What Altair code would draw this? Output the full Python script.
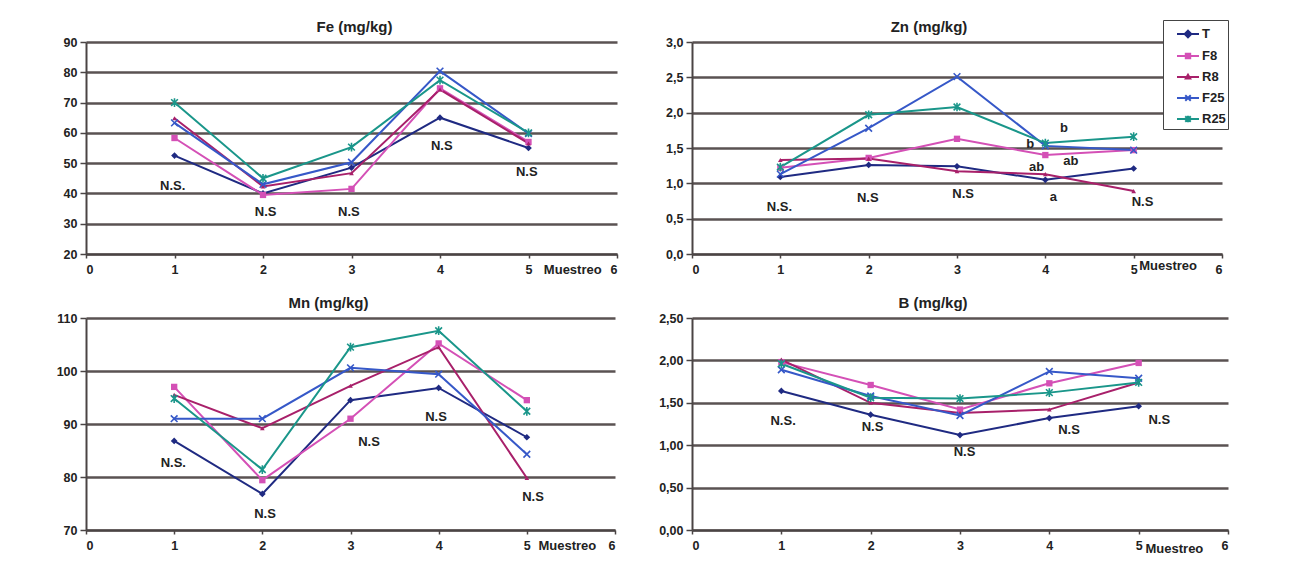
import altair as alt
import pandas as pd

series = ["T", "F8", "R8", "F25", "R25"]
colors = ["#1f2a82", "#d450b6", "#a8206a", "#3658c8", "#1a968a"]
muestreo = [1, 2, 3, 4, 5]

# Fe (mg/kg)
fe_T = [52.5, 40.0, 48.5, 65.0, 55.0]
fe_F8 = [58.3, 39.5, 41.5, 74.7, 57.0]
fe_R8 = [64.8, 42.3, 46.7, 74.3, 56.5]
fe_F25 = [63.3, 43.0, 50.3, 80.4, 59.8]
fe_R25 = [70.0, 45.0, 55.3, 77.4, 60.0]

# Zn (mg/kg)
zn_T = [1.09, 1.26, 1.24, 1.05, 1.21]
zn_F8 = [1.22, 1.36, 1.63, 1.40, 1.47]
zn_R8 = [1.33, 1.35, 1.17, 1.13, 0.89]
zn_F25 = [1.13, 1.78, 2.51, 1.53, 1.47]
zn_R25 = [1.23, 1.97, 2.08, 1.57, 1.66]

# Mn (mg/kg)
mn_T = [86.8, 76.8, 94.5, 96.8, 87.5]
mn_F8 = [97.0, 79.4, 91.0, 105.2, 94.5]
mn_R8 = [95.5, 89.2, 97.2, 104.5, 79.8]
mn_F25 = [91.0, 91.0, 100.6, 99.4, 84.3]
mn_R25 = [94.8, 81.4, 104.5, 107.6, 92.4]

# B (mg/kg)
b_T = [1.64, 1.36, 1.12, 1.32, 1.46]
b_F8 = [1.98, 1.71, 1.42, 1.73, 1.97]
b_R8 = [2.01, 1.50, 1.38, 1.42, 1.74]
b_F25 = [1.89, 1.58, 1.35, 1.87, 1.79]
b_R25 = [1.96, 1.56, 1.55, 1.62, 1.74]

# annotation labels
fe_lbl_x = [0.98, 2.03, 2.97, 4.02, 4.98]
fe_lbl_y = [42.6, 33.9, 33.9, 55.5, 47.2]
fe_lbl_t = ["N.S.", "N.S", "N.S", "N.S", "N.S"]

zn_lbl_x = [0.99, 1.99, 3.07, 5.10, 4.09, 3.90, 3.83, 4.29, 4.21]
zn_lbl_y = [0.66, 0.79, 0.85, 0.73, 0.80, 1.23, 1.56, 1.31, 1.79]
zn_lbl_t = ["N.S.", "N.S", "N.S", "N.S", "a", "ab", "b", "ab", "b"]

mn_lbl_x = [0.99, 2.03, 3.21, 3.97, 5.07]
mn_lbl_y = [82.6, 73.0, 86.6, 91.3, 76.2]
mn_lbl_t = ["N.S.", "N.S", "N.S", "N.S", "N.S"]

b_lbl_x = [1.02, 2.02, 3.05, 4.22, 5.23]
b_lbl_y = [1.29, 1.21, 0.92, 1.18, 1.30]
b_lbl_t = ["N.S.", "N.S", "N.S", "N.S", "N.S"]

# "Muestreo" axis-caption positions per panel (Fe, Zn, Mn, B)
mu_x = [5.5, 5.39, 5.46, 5.4]
mu_y = [14.7, -0.17, 67.0, -0.22]

FONT = "Liberation Sans"
TXT = "#222222"
GRID = "#5a5252"
PAD = "\u00a0" * 8

X_PATH = "M-1,-1L1,1M-1,1L1,-1"
AST_PATH = "M-1,-1L1,1M-1,1L1,-1M0,-1.3L0,1.3"
marker_shapes = ["diamond", "square", "triangle-up", X_PATH, AST_PATH]
marker_filled = [True, True, True, False, False]
marker_sizes = [45, 40, 22, 45, 45]

legend_paths = [
    "M-1,0L1,0M0,-0.3L0.3,0L0,0.3L-0.3,0Z",
    "M-1,0L1,0M-0.2,-0.2L0.2,-0.2L0.2,0.2L-0.2,0.2Z",
    "M-1,0L1,0M0,-0.2L0.2,0.14L-0.2,0.14Z",
    "M-1,0L1,0M-0.25,-0.25L0.25,0.25M-0.25,0.25L0.25,-0.25",
    "M-1,0L1,0M-0.25,-0.25L0.25,0.25M-0.25,0.25L0.25,-0.25M0,-0.3L0,0.3",
]


def panel(vals, ydom, yticks, dec, lbl_x, lbl_y, lbl_t, mx, my, title, tdx, toff, w, h, legend=False):
    rows = []
    for s, v in zip(series, vals):
        for m, val in zip(muestreo, v):
            rows.append({"m": m, "v": val, "s": s})
    df = pd.DataFrame(rows)
    if dec == 0:
        lexpr = "format(datum.value, 'd')"
    else:
        lexpr = "replace(format(datum.value, '.%df'), '.', ',')" % dec
    xenc = alt.X("m:Q", scale=alt.Scale(domain=[0, 6], nice=False, zero=False),
                 axis=alt.Axis(values=[0, 1, 2, 3, 4, 5, 6], format="d", grid=False, title=None,
                               tickSize=4, labelPadding=5, labelOverlap=False))
    yenc = alt.Y("v:Q", scale=alt.Scale(domain=ydom, nice=False, zero=False),
                 axis=alt.Axis(values=yticks, labelExpr=lexpr, grid=True, title=None,
                               tickSize=6, labelPadding=3, labelOverlap=False))
    lines = alt.Chart(df).mark_line(strokeWidth=2).encode(
        x=xenc, y=yenc,
        color=alt.Color("s:N", scale=alt.Scale(domain=series, range=colors), legend=None),
        detail="s:N",
    )
    layers = [lines]
    for i, s in enumerate(series):
        pts = alt.Chart(df).transform_filter(alt.datum.s == s).mark_point(
            shape=marker_shapes[i], filled=marker_filled[i], size=marker_sizes[i],
            color=colors[i], strokeWidth=1.6, opacity=1,
        ).encode(x=xenc, y=yenc)
        layers.append(pts)
    tdf = pd.DataFrame({"m": lbl_x, "v": lbl_y, "t": lbl_t})
    txt = alt.Chart(tdf).mark_text(font=FONT, fontSize=13, fontWeight="bold", color=TXT).encode(
        x=xenc, y=yenc, text="t:N")
    layers.append(txt)
    mdf = pd.DataFrame({"m": [mx], "v": [my], "t": ["Muestreo"]})
    mt = alt.Chart(mdf).mark_text(font=FONT, fontSize=13, fontWeight="bold", color=TXT).encode(
        x=xenc, y=yenc, text="t:N")
    layers.append(mt)
    if legend:
        leg_domain = [s + PAD for s in series]
        leg = alt.Legend(title=None, orient="none", legendX=471, legendY=-22,
                         fillColor="white", strokeColor="#444444", padding=2,
                         symbolSize=484, symbolStrokeWidth=2, symbolOffset=11,
                         symbolOpacity=1, rowPadding=2, labelOffset=2,
                         labelFont=FONT, labelFontSize=13, labelFontWeight="bold",
                         labelColor=TXT)
        ll = alt.Chart(df).transform_calculate(
            sl="datum.s + '" + PAD + "'"
        ).mark_point(filled=True, strokeWidth=2, clip=True, yOffset=2000).encode(
            x=xenc, y=yenc,
            fill=alt.Fill("sl:N", scale=alt.Scale(domain=leg_domain, range=colors), legend=leg),
            stroke=alt.Stroke("sl:N", scale=alt.Scale(domain=leg_domain, range=colors), legend=leg),
            shape=alt.Shape("sl:N", scale=alt.Scale(domain=leg_domain, range=legend_paths), legend=leg),
        )
        layers.append(ll)
    return alt.layer(*layers).properties(
        width=w, height=h,
        title=alt.TitleParams(title, font=FONT, fontSize=15, fontWeight="bold", color=TXT,
                              frame="group", dx=tdx, offset=toff),
    )


fe = panel([fe_T, fe_F8, fe_R8, fe_F25, fe_R25], [20, 90], [20, 30, 40, 50, 60, 70, 80, 90], 0,
           fe_lbl_x, fe_lbl_y, fe_lbl_t, mu_x[0], mu_y[0], "Fe (mg/kg)", 3, 1, 531, 212)
zn = panel([zn_T, zn_F8, zn_R8, zn_F25, zn_R25], [0, 3], [0, 0.5, 1, 1.5, 2, 2.5, 3], 1,
           zn_lbl_x, zn_lbl_y, zn_lbl_t, mu_x[1], mu_y[1], "Zn (mg/kg)", -28, -15, 530, 212,
           legend=True)
mn = panel([mn_T, mn_F8, mn_R8, mn_F25, mn_R25], [70, 110], [70, 80, 90, 100, 110], 0,
           mn_lbl_x, mn_lbl_y, mn_lbl_t, mu_x[2], mu_y[2], "Mn (mg/kg)", -22, 1, 529, 212)
bb = panel([b_T, b_F8, b_R8, b_F25, b_R25], [0, 2.5], [0, 0.5, 1, 1.5, 2, 2.5], 2,
           b_lbl_x, b_lbl_y, b_lbl_t, mu_x[3], mu_y[3], "B (mg/kg)", -27, 1, 536, 212)

chart = alt.concat(
    fe, zn, mn, bb, columns=2, spacing={"row": 64, "column": 75}, bounds="flush",
).resolve_scale(
    fill="independent", stroke="independent", shape="independent",
).properties(
    padding={"left": 48, "top": 11, "right": 5, "bottom": 5},
).configure_view(strokeWidth=0).configure_axis(
    labelFont=FONT, labelFontSize=12.5, labelFontWeight="bold", labelColor=TXT,
    domainColor="#4a4444", domainWidth=2, tickColor="#4a4444", tickWidth=1.5,
    gridColor=GRID, gridWidth=2.5, gridOpacity=1,
)

chart.save("out.html", embed_options={"renderer": "svg", "actions": False})
